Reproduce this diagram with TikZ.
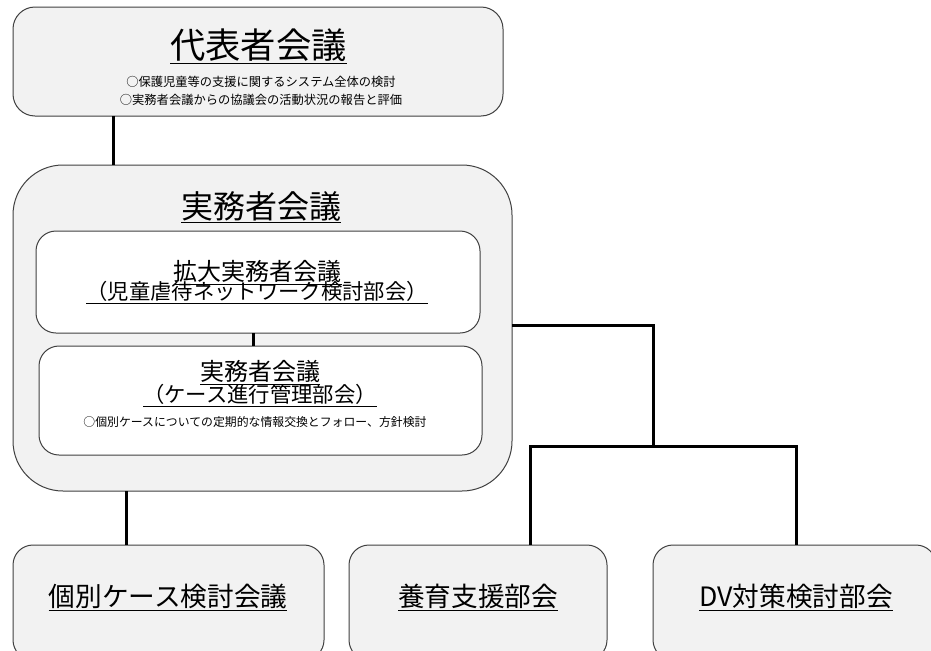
\documentclass[tikz,border=0pt]{standalone}
\usepackage{fontspec}
\setmainfont{Noto Sans CJK JP}
\definecolor{boxfill}{HTML}{F2F2F2}
\definecolor{boxline}{HTML}{404040}
\begin{document}
\begin{tikzpicture}[x=0.75pt,y=-0.75pt,
  box/.style={draw=boxline, line width=0.75pt, inner sep=0pt, outer sep=0pt},
  gbox/.style={box, fill=boxfill},
  wbox/.style={box, fill=white},
  conn/.style={draw=black, line width=2.25pt},
  lbl/.style={anchor=base, inner sep=0pt, text=black}]
\clip (0,0) rectangle (931,650);
\fill[white] (0,0) rectangle (931,650);
% boxes
\node[gbox, rounded corners=16.5pt, minimum width=367.5pt, minimum height=81.75pt] (top) at (258,61.5) {};
\node[gbox, rounded corners=37.5pt, minimum width=374.25pt, minimum height=244.5pt] (big) at (262.5,328) {};
\node[wbox, rounded corners=15pt, minimum width=333pt, minimum height=76.5pt] (in1) at (258,282) {};
\node[wbox, rounded corners=15pt, minimum width=332.25pt, minimum height=81.75pt] (in2) at (260.5,400.5) {};
\node[gbox, rounded corners=15pt, minimum width=233.25pt, minimum height=86.25pt] (b1) at (168.5,602.5) {};
\node[gbox, rounded corners=15pt, minimum width=193.5pt, minimum height=86.25pt] (b2) at (478,602.5) {};
\node[gbox, rounded corners=15pt, minimum width=212.25pt, minimum height=86.25pt] (b3) at (794.5,602.5) {};
% texts
\node[lbl, font={\fontsize{26.5pt}{30pt}\selectfont}] (t1) at (258.5,58) {\underline{代表者会議}};
\node[lbl, font={\fontsize{9.2pt}{10pt}\selectfont}] (t1a) at (261,86.5) {○保護児童等の支援に関するシステム全体の検討};
\node[lbl, font={\fontsize{9.2pt}{10pt}\selectfont}] (t1b) at (261,104.5) {○実務者会議からの協議会の活動状況の報告と評価};
\node[lbl, font={\fontsize{24pt}{28pt}\selectfont}] (t2) at (261,218) {\underline{実務者会議}};
\node[lbl, font={\fontsize{18pt}{20pt}\selectfont}] (t3a) at (257.5,280) {\underline{拡大実務者会議}};
\node[lbl, font={\fontsize{16pt}{18pt}\selectfont}] (t3b) at (257,299) {\underline{（児童虐待ネットワーク検討部会）}};
\node[lbl, font={\fontsize{18pt}{20pt}\selectfont}] (t4a) at (260,380) {\underline{実務者会議}};
\node[lbl, font={\fontsize{16pt}{18pt}\selectfont}] (t4b) at (260,402) {\underline{（ケース進行管理部会）}};
\node[lbl, font={\fontsize{8.9pt}{10pt}\selectfont}] (t4c) at (255,426.5) {○個別ケースについての定期的な情報交換とフォロー、方針検討};
\node[lbl, font={\fontsize{20pt}{24pt}\selectfont}] (t5) at (168,606) {\underline{個別ケース検討会議}};
\node[lbl, font={\fontsize{20pt}{24pt}\selectfont}] (t6) at (478,606) {\underline{養育支援部会}};
\node[lbl, font={\fontsize{20pt}{24pt}\selectfont}] (t7) at (796,606) {\underline{DV対策検討部会}};
% connectors
\coordinate (c1) at (113,0);
\coordinate (c2) at (253,0);
\coordinate (c3) at (126,0);
\coordinate (j1) at (653,325);
\coordinate (j2) at (653,446);
\coordinate (l) at (530,446);
\coordinate (r) at (796,446);
\draw[conn] (c1 |- top.south) -- (c1 |- big.north);
\draw[conn] (c2 |- in1.south) -- (c2 |- in2.north);
\draw[conn] (c3 |- big.south) -- (c3 |- b1.north);
\draw[conn] (big.east |- j1) -- (j1) -- (j2);
\draw[conn] (b2.north -| l) -- (l) -- (r) -- (b3.north -| r);
\end{tikzpicture}
\end{document}
